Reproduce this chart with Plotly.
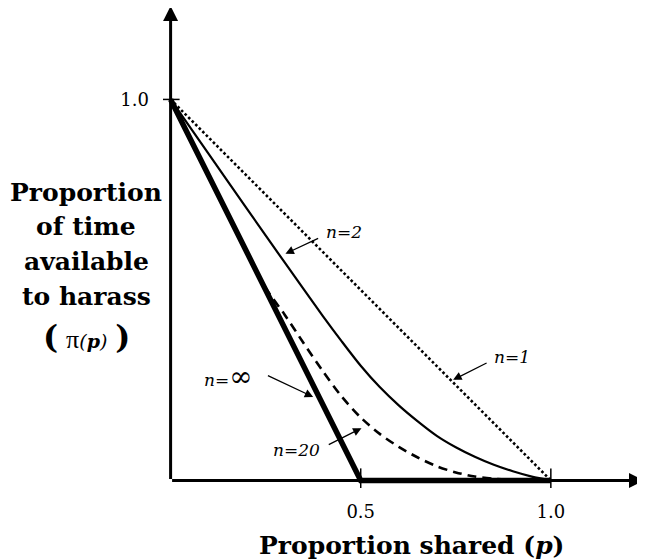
import plotly.graph_objects as go

# ---- data ----
p_n1 = [0.0, 1.0]
pi_n1 = [1.0, 0.0]

p_n2 = [0.0, 0.1, 0.2, 0.3, 0.4, 0.45, 0.5, 0.55, 0.6, 0.65, 0.7, 0.75, 0.8, 0.85, 0.9, 0.95, 1.0]
pi_n2 = [1.0, 0.857, 0.714, 0.572, 0.432, 0.365, 0.301, 0.245, 0.197, 0.155, 0.117, 0.087, 0.062, 0.041, 0.024, 0.010, 0.0]

p_n20 = [0.0, 0.2, 0.25, 0.3, 0.35, 0.4, 0.45, 0.5, 0.55, 0.6, 0.65, 0.7, 0.75, 0.8, 0.85, 0.9, 0.95, 1.0]
pi_n20 = [1.0, 0.600, 0.505, 0.435, 0.360, 0.287, 0.220, 0.165, 0.122, 0.088, 0.060, 0.037, 0.021, 0.010, 0.004, 0.001, 0.0, 0.0]

p_ninf = [0.0, 0.5, 1.0]
pi_ninf = [1.0, 0.0, 0.0]

x_ticks = [0.5, 1.0]
x_tick_labels = ["0.5", "1.0"]
y_ticks = [1.0]
y_tick_labels = ["1.0"]

curve_labels = ["<i>n=1</i>", "<i>n=2</i>", "<i>n=</i><span style='font-size:28px'>∞</span>", "<i>n=20</i>"]
label_pos = [(0.897, 0.324), (0.455, 0.652), (0.152, 0.274), (0.331, 0.079)]
arrow_tail = [(0.835, 0.31), (0.392, 0.637), (0.252, 0.277), (0.412, 0.092)]
arrow_tip = [(0.743, 0.264), (0.302, 0.595), (0.375, 0.219), (0.502, 0.137)]

y_title_lines = ["<b>Proportion</b>", "<b>of time</b>", "<b>available</b>", "<b>to harass</b>",
                 "<b><span style='font-size:32px'>(</span></b> <span style='font-family:Liberation Serif;font-size:26px'>π</span>"
                 "<span style='font-size:19px'><i>(<b>p</b>)</i></span> <b><span style='font-size:32px'>)</span></b>"]
y_title_y = [0.615, 0.544, 0.471, 0.400, 0.315]   # paper coordinates
y_title_x = -0.160
x_title = "<b>Proportion shared (<i>p</i>)</b>"
x_title_pos = (0.516, -0.119)

SERIF = "DejaVu Serif"

fig = go.Figure()
fig.add_trace(go.Scatter(x=p_n1, y=pi_n1, mode="lines",
                         line=dict(color="black", width=2.6, dash="2.6px,2.4px")))
fig.add_trace(go.Scatter(x=p_n2, y=pi_n2, mode="lines", line_shape="spline",
                         line=dict(color="black", width=2.2, smoothing=0.8)))
fig.add_trace(go.Scatter(x=p_n20, y=pi_n20, mode="lines", line_shape="spline",
                         line=dict(color="black", width=2.6, dash="9px,6px", smoothing=0.8)))
fig.add_trace(go.Scatter(x=p_ninf, y=pi_ninf, mode="lines",
                         line=dict(color="black", width=5.5)))

annotations = []
# axes with arrows
annotations.append(dict(x=1.245, y=0, ax=0, ay=0, xref="x", yref="y", axref="x", ayref="y",
                        text="", showarrow=True, arrowhead=2, arrowsize=1.0, arrowwidth=3, arrowcolor="black"))
annotations.append(dict(x=0, y=1.245, ax=0, ay=0, xref="x", yref="y", axref="x", ayref="y",
                        text="", showarrow=True, arrowhead=2, arrowsize=1.0, arrowwidth=3, arrowcolor="black"))

for lab, (lx, ly), (tx, ty), (hx, hy) in zip(curve_labels, label_pos, arrow_tail, arrow_tip):
    annotations.append(dict(x=lx, y=ly, xref="x", yref="y", text=lab, showarrow=False,
                            xanchor="center", yanchor="middle",
                            font=dict(family=SERIF, size=17, color="black")))
    annotations.append(dict(x=hx, y=hy, ax=tx, ay=ty, xref="x", yref="y", axref="x", ayref="y",
                            text="", showarrow=True, arrowhead=2, arrowsize=1.3, arrowwidth=1.3,
                            arrowcolor="black"))

for line, yy in zip(y_title_lines, y_title_y):
    annotations.append(dict(x=y_title_x, y=yy, xref="paper", yref="paper", text=line, showarrow=False,
                            xanchor="center", yanchor="middle",
                            font=dict(family=SERIF, size=25, color="black")))

annotations.append(dict(x=x_title_pos[0], y=x_title_pos[1], xref="paper", yref="paper", text=x_title,
                        showarrow=False, xanchor="center", yanchor="middle",
                        font=dict(family=SERIF, size=25, color="black")))

shapes = []
for t in x_ticks:
    shapes.append(dict(type="line", xref="x", yref="y", x0=t, x1=t, ysizemode="pixel", yanchor=0,
                       y0=-12, y1=12, line=dict(color="black", width=1.5)))
for t in y_ticks:
    shapes.append(dict(type="line", xref="x", yref="y", y0=t, y1=t, xsizemode="pixel", xanchor=0,
                       x0=-13, x1=9, line=dict(color="black", width=1.5)))

fig.update_layout(
    width=645, height=560,
    margin=dict(l=155, r=9, t=0, b=80),
    paper_bgcolor="white", plot_bgcolor="white",
    showlegend=False,
    annotations=annotations,
    shapes=shapes,
    xaxis=dict(range=[-0.02, 1.245], showgrid=False, zeroline=False, showline=False,
               tickvals=x_ticks, ticktext=x_tick_labels, ticks="",
               ticklabelstandoff=11,
               tickfont=dict(family=SERIF, size=18, color="black")),
    yaxis=dict(range=[-0.02, 1.24], showgrid=False, zeroline=False, showline=False,
               tickvals=y_ticks, ticktext=y_tick_labels, ticks="",
               ticklabelstandoff=13,
               tickfont=dict(family=SERIF, size=18, color="black")),
)

fig.write_html("out.html")
